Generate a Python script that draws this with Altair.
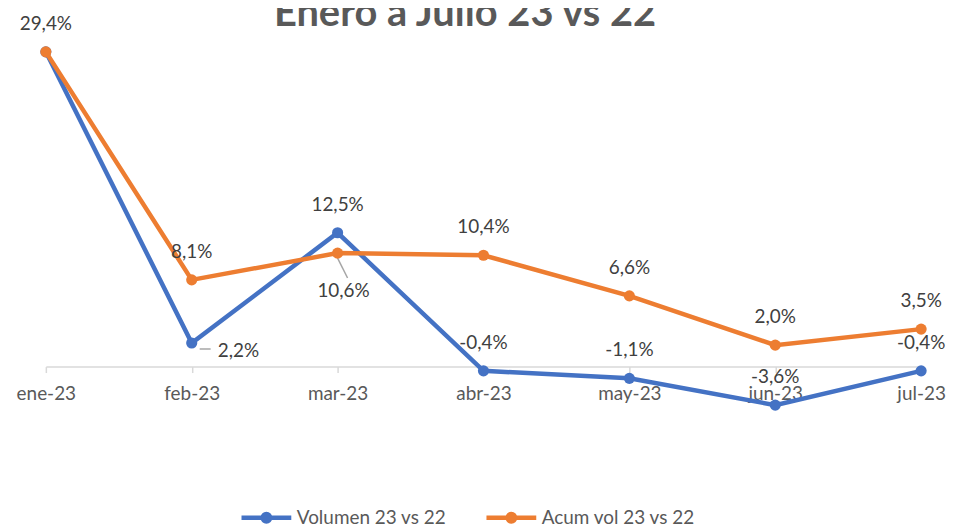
import altair as alt
import pandas as pd

meses = ["ene-23", "feb-23", "mar-23", "abr-23", "may-23", "jun-23", "jul-23"]
volumen = [29.4, 2.2, 12.5, -0.4, -1.1, -3.6, -0.4]
acum = [29.4, 8.1, 10.6, 10.4, 6.6, 2.0, 3.5]
series = ["Volumen 23 vs 22", "Acum vol 23 vs 22"]
colores = ["#4472C4", "#ED7D31"]
titulo = "Enero a Julio 23 vs 22"

rows = []
for i, m in enumerate(meses):
    rows.append({"mes": m, "serie": series[0], "valor": volumen[i]})
    rows.append({"mes": m, "serie": series[1], "valor": acum[i]})
df = pd.DataFrame(rows)
df["etiqueta"] = df["valor"].map(lambda v: f"{v:.1f}%".replace(".", ","))

FONT = "Lato"
W, H = 879, 451.5

legend = alt.Legend(
    title=None, orient="none", legendX=194, legendY=468, direction="horizontal",
    symbolType="M-1,0L1,0M-0.09,0A0.09,0.09,0,1,1,0.09,0A0.09,0.09,0,1,1,-0.09,0M-0.15,0A0.15,0.15,0,1,1,0.15,0A0.15,0.15,0,1,1,-0.15,0",
    symbolSize=2500, symbolStrokeWidth=4.5, symbolFillColor="transparent",
    labelFont=FONT, labelFontSize=19, labelColor="#595959", labelOffset=3,
    columnPadding=30, padding=0,
)

x_enc = alt.X("mes:N", sort=meses, scale=alt.Scale(type="point", padding=0),
              axis=alt.Axis(title=None, orient="bottom", offset=-107.5, domainColor="#d9d9d9",
                            domainWidth=1.5, tickColor="#d9d9d9", tickWidth=1.5, tickSize=6,
                            labelFont=FONT, labelFontSize=19, labelColor="#595959",
                            labelPadding=12, labelAngle=0, grid=False))
y_enc = alt.Y("valor:Q", scale=alt.Scale(domain=[-10, 32], nice=False, zero=False), axis=None)
c_enc = alt.Color("serie:N", scale=alt.Scale(domain=series, range=colores), legend=legend)

base = alt.Chart(df).encode(x=x_enc, y=y_enc, color=c_enc)

layers = []
for s in series:
    sub = base.transform_filter(alt.datum.serie == s)
    layers.append(sub.mark_line(strokeWidth=4.5))
    layers.append(sub.mark_circle(size=125, opacity=1))

lab = dict(font=FONT, fontSize=19, color="#404040", baseline="middle")

above = base.transform_filter(
    "!(datum.serie == 'Volumen 23 vs 22' && (datum.mes == 'ene-23' || datum.mes == 'feb-23'))"
    " && !(datum.serie == 'Acum vol 23 vs 22' && datum.mes == 'mar-23')"
).mark_text(dy=-28, **lab).encode(text="etiqueta:N", color=alt.value("#404040"))

orange_mar = base.transform_filter(
    "datum.serie == 'Acum vol 23 vs 22' && datum.mes == 'mar-23'")
below_txt = orange_mar.mark_text(dy=38, dx=6, **lab).encode(text="etiqueta:N", color=alt.value("#404040"))
below_rule = orange_mar.mark_rule(strokeWidth=1.5, yOffset=5, y2Offset=25, x2Offset=10).encode(
    x2="mes:N", y2="valor:Q", color=alt.value("#a6a6a6"))

blue_feb = base.transform_filter("datum.serie == 'Volumen 23 vs 22' && datum.mes == 'feb-23'")
right_txt = blue_feb.mark_text(dx=47, dy=8, **lab).encode(text="etiqueta:N", color=alt.value("#404040"))
right_rule = blue_feb.mark_rule(strokeWidth=1.5, xOffset=8, x2Offset=19, yOffset=6, y2Offset=6).encode(
    x2="mes:N", y2="valor:Q", color=alt.value("#a6a6a6"))

title = alt.Chart(pd.DataFrame({"t": [titulo]})).mark_text(
    font=FONT, fontSize=40, fontWeight="bold", color="#595959", align="center", baseline="alphabetic"
).encode(text="t:N", x=alt.value(421), y=alt.value(2))

chart = alt.layer(below_rule, right_rule, *layers, above, below_txt, right_txt, title).properties(
    width=W, height=H,
    autosize=alt.AutoSizeParams(type="none"),
    padding={"left": 38, "top": 15, "right": 28, "bottom": 50},
    background="white",
).configure_view(stroke=None)

chart.save("out.html", embed_options={"renderer": "svg", "actions": False})
